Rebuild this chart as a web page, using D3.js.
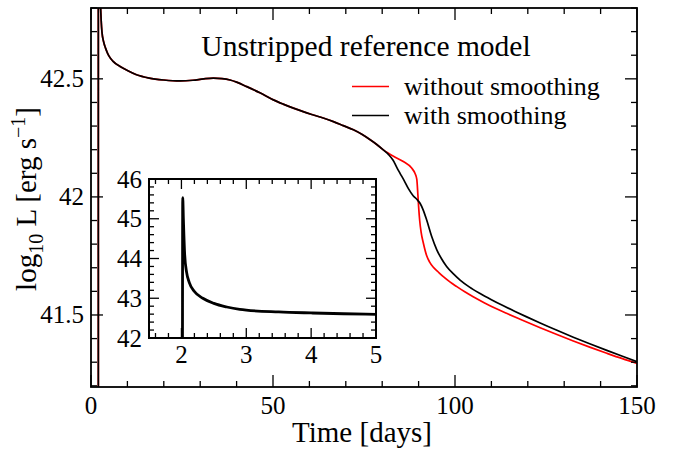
<!DOCTYPE html>
<html><head><meta charset="utf-8">
<script src="https://cdn.jsdelivr.net/npm/d3@7"></script>
<style>
html,body{margin:0;padding:0;background:#fff;}
svg{display:block;font-family:"Liberation Serif","Times New Roman",serif;}
</style></head>
<body>
<svg id="chart" width="678" height="449"></svg>
<script>
// ---- data ----
const titleText = "Unstripped reference model";
const seriesNames = ["without smoothing", "with smoothing"];
const seriesColors = ["#ff0000", "#000000"];
const xTicksMain = [0, 50, 100, 150];
const yTicksMain = [41.5, 42, 42.5];
const xTicksInset = [2, 3, 4, 5];
const yTicksInset = [42, 43, 44, 45, 46];

// shared early evolution (both runs identical until ~80 d)
const tShared = [2.015, 2.02, 2.03, 2.05, 2.08, 2.12, 2.2, 2.33, 2.5, 2.7, 2.9, 3.0, 3.5, 4.0, 4.5, 5.0, 6.0, 8.0, 10, 12.5, 16, 20, 24.5, 28, 31, 33.6, 36, 38.2, 40, 42.8, 46.4, 50.1, 52.8, 55.6, 58.3, 61.1, 63.8, 66.6, 69.3, 72.1, 74.4, 76.6, 78.5, 80.3];
const lShared = [40.0, 45.53, 45.0, 44.1, 43.65, 43.4, 43.17, 43.0, 42.87, 42.78, 42.72, 42.70, 42.655, 42.63, 42.61, 42.595, 42.575, 42.552, 42.535, 42.517, 42.503, 42.495, 42.491, 42.494, 42.5, 42.503, 42.501, 42.495, 42.486, 42.467, 42.441, 42.411, 42.393, 42.376, 42.361, 42.347, 42.334, 42.319, 42.302, 42.284, 42.265, 42.243, 42.222, 42.199];

// without smoothing (red)
const tRed = [81.5, 83.1, 85.8, 88.1, 89.0, 89.5, 89.8, 90.0, 90.3, 90.7, 91.3, 92.2, 93.0, 94.0, 95.4, 96.8, 98.6, 100.5, 102.8, 105, 108, 111.4, 114.6, 117.9, 123.4, 128, 132.5, 137, 141.7, 146, 150];
const lRed = [42.187, 42.172, 42.150, 42.122, 42.100, 42.075, 42.01, 41.96, 41.90, 41.85, 41.805, 41.752, 41.725, 41.703, 41.682, 41.662, 41.64, 41.62, 41.597, 41.577, 41.552, 41.526, 41.504, 41.482, 41.446, 41.417, 41.390, 41.364, 41.338, 41.315, 41.295];

// with smoothing (black)
const tBlack = [81.7, 83.0, 84.0, 84.9, 86.0, 87.2, 88.5, 89.5, 90.4, 91.3, 92.2, 93.6, 95.0, 96.3, 97.7, 99.5, 101.4, 104, 106.9, 110, 113.3, 116.5, 119.7, 123.4, 128, 132.5, 137, 141.7, 146, 150];
const lBlack = [42.18, 42.155, 42.125, 42.10, 42.07, 42.035, 42.005, 41.99, 41.973, 41.943, 41.903, 41.832, 41.776, 41.738, 41.705, 41.675, 41.648, 41.618, 41.591, 41.565, 41.539, 41.515, 41.492, 41.466, 41.435, 41.406, 41.378, 41.350, 41.325, 41.302];

// ---- build ----
const toPts = (ts, ls) => ts.map((t, i) => ({t, l: ls[i]}));
const shared = toPts(tShared, lShared);
const redData = shared.concat(toPts(tRed, lRed));
const blackData = shared.concat(toPts(tBlack, lBlack));

const svg = d3.select("#chart");
const M = {left: 91, right: 637, top: 8, bottom: 387};
const x = d3.scaleLinear().domain([0, 150]).range([M.left, M.right]);
const y = d3.scaleLinear().domain([41.195, 42.80]).range([M.bottom, M.top]);

const defs = svg.append("defs");
defs.append("clipPath").attr("id", "clipMain").append("rect")
  .attr("x", M.left).attr("y", M.top).attr("width", M.right - M.left).attr("height", M.bottom - M.top);

const line = d3.line().x(d => x(d.t)).y(d => y(d.l)).curve(d3.curveMonotoneX);

const gMain = svg.append("g").attr("clip-path", "url(#clipMain)");
gMain.append("path").datum(redData).attr("d", line)
  .attr("fill", "none").attr("stroke", seriesColors[0]).attr("stroke-width", 1.7);
gMain.append("path").datum(blackData).attr("d", line)
  .attr("fill", "none").attr("stroke", seriesColors[1]).attr("stroke-width", 1.7);

// ticks helper
function drawTicks(g, xs, ys, xMajor, yMajor, xMinor, yMinor, lenMaj, lenMin, sw) {
  const [x0, x1] = xs.range(), [y0, y1] = ys.range(); // y0 bottom, y1 top
  const tk = g.append("g").attr("stroke", "#000").attr("stroke-width", sw);
  xMinor.forEach(v => {
    const len = xMajor.some(m => Math.abs(m - v) < 1e-9) ? lenMaj : lenMin;
    tk.append("line").attr("x1", xs(v)).attr("x2", xs(v)).attr("y1", y0).attr("y2", y0 - len);
    tk.append("line").attr("x1", xs(v)).attr("x2", xs(v)).attr("y1", y1).attr("y2", y1 + len);
  });
  yMinor.forEach(v => {
    const len = yMajor.some(m => Math.abs(m - v) < 1e-9) ? lenMaj : lenMin;
    tk.append("line").attr("y1", ys(v)).attr("y2", ys(v)).attr("x1", x0).attr("x2", x0 + len);
    tk.append("line").attr("y1", ys(v)).attr("y2", ys(v)).attr("x1", x1).attr("x2", x1 - len);
  });
}
const rng = (a, b, s) => { const out = []; for (let v = a; v <= b + 1e-9; v += s) out.push(+v.toFixed(4)); return out; };

drawTicks(svg, x, y, xTicksMain, yTicksMain, rng(0, 150, 10), rng(41.2, 42.8, 0.1), 12, 6, 1.3);

svg.append("rect").attr("x", M.left).attr("y", M.top).attr("width", M.right - M.left).attr("height", M.bottom - M.top)
  .attr("fill", "none").attr("stroke", "#000").attr("stroke-width", 1.8);

// tick labels main
svg.append("g").selectAll("text").data(xTicksMain).join("text")
  .attr("x", d => x(d)).attr("y", 414).attr("text-anchor", "middle")
  .attr("font-size", 25).text(d => d);
svg.append("g").selectAll("text").data(yTicksMain).join("text")
  .attr("x", 84).attr("y", d => y(d) + 8.5).attr("text-anchor", "end")
  .attr("font-size", 25).text(d => d3.format("")(d));

// axis labels
svg.append("text").attr("x", 362).attr("y", 442).attr("text-anchor", "middle")
  .attr("font-size", 29).text("Time [days]");
const yl = svg.append("text").attr("transform", "translate(36,199) rotate(-90)")
  .attr("text-anchor", "middle").attr("font-size", 29);
yl.append("tspan").text("log");
yl.append("tspan").attr("font-size", 20).attr("dy", 7).text("10");
yl.append("tspan").attr("dy", -7).text(" L [erg s");
yl.append("tspan").attr("font-size", 20).attr("dy", -11).text("\u22121");
yl.append("tspan").attr("dy", 11).text("]");

// title
svg.append("text").attr("x", 366).attr("y", 56).attr("text-anchor", "middle")
  .attr("font-size", 29.5).text(titleText);

// legend
const legY = [86.5, 115.5];
seriesNames.forEach((n, i) => {
  svg.append("line").attr("x1", 352).attr("x2", 389).attr("y1", legY[i]).attr("y2", legY[i])
    .attr("stroke", seriesColors[i]).attr("stroke-width", 1.7);
  svg.append("text").attr("x", 404).attr("y", legY[i] + 8).attr("font-size", 26).text(n);
});

// ---- inset ----
const I = {left: 149, right: 376, top: 179, bottom: 338};
const xi = d3.scaleLinear().domain([1.5, 5]).range([I.left, I.right]);
const yi = d3.scaleLinear().domain([42, 46]).range([I.bottom, I.top]);
svg.append("rect").attr("x", I.left).attr("y", I.top).attr("width", I.right - I.left).attr("height", I.bottom - I.top)
  .attr("fill", "#fff");
defs.append("clipPath").attr("id", "clipInset").append("rect")
  .attr("x", I.left).attr("y", I.top).attr("width", I.right - I.left).attr("height", I.bottom - I.top);
const lineI = d3.line().x(d => xi(d.t)).y(d => yi(d.l)).curve(d3.curveMonotoneX);
svg.append("g").attr("clip-path", "url(#clipInset)").append("path")
  .datum(blackData.filter(d => d.t <= 6)).attr("d", lineI)
  .attr("fill", "none").attr("stroke", "#000").attr("stroke-width", 2.8);
drawTicks(svg, xi, yi, xTicksInset, yTicksInset, rng(1.6, 5, 0.2), rng(42, 46, 0.2), 10, 5, 1.3);
svg.append("rect").attr("x", I.left).attr("y", I.top).attr("width", I.right - I.left).attr("height", I.bottom - I.top)
  .attr("fill", "none").attr("stroke", "#000").attr("stroke-width", 2);
svg.append("g").selectAll("text").data(xTicksInset).join("text")
  .attr("x", d => xi(d)).attr("y", 363).attr("text-anchor", "middle")
  .attr("font-size", 25).text(d => d);
svg.append("g").selectAll("text").data(yTicksInset).join("text")
  .attr("x", 142).attr("y", d => yi(d) + 8.5).attr("text-anchor", "end")
  .attr("font-size", 25).text(d => d);
</script>
</body></html>
